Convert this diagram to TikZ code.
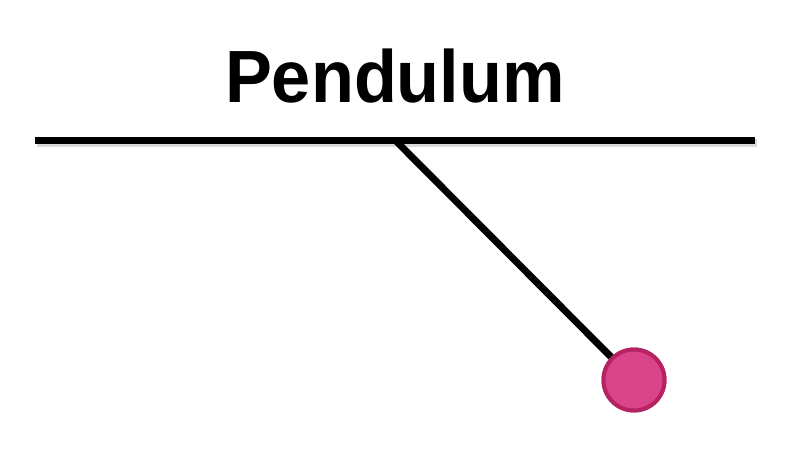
\documentclass[tikz,border=0pt]{standalone}
\usepackage{fontspec}
\setmainfont{Liberation Sans}
\definecolor{bobfill}{HTML}{D9448B}
\definecolor{bobedge}{HTML}{B52363}
\tikzset{
  rod/.style={line width=7pt, black},
  rodshadow/.style={line width=8pt, black!35, opacity=0.4},
  bob/.style={circle, minimum size=61pt, inner sep=0pt, fill=bobfill, draw=bobedge, line width=4pt},
  titletext/.style={font=\fontsize{74}{80}\selectfont\bfseries, inner sep=0pt, xscale=0.95},
}
\begin{document}
\begin{tikzpicture}[x=1pt,y=-1pt]
\useasboundingbox (0,0) rectangle (796,450);
% title
\node[titletext, anchor=base] (title) at (395,102) {Pendulum};
% support
\coordinate (L) at (35,140);
\coordinate (R) at (755,140);
\coordinate (P) at (395,140);
\node[bob] (bob) at (634,380) {};
\draw[rodshadow] ([shift={(2,3)}]L) -- ([shift={(2,3)}]R);
\draw[rod] (L) -- (R);
\draw[rod] (P) -- (bob);
\node[bob] at (bob) {};
\end{tikzpicture}
\end{document}
